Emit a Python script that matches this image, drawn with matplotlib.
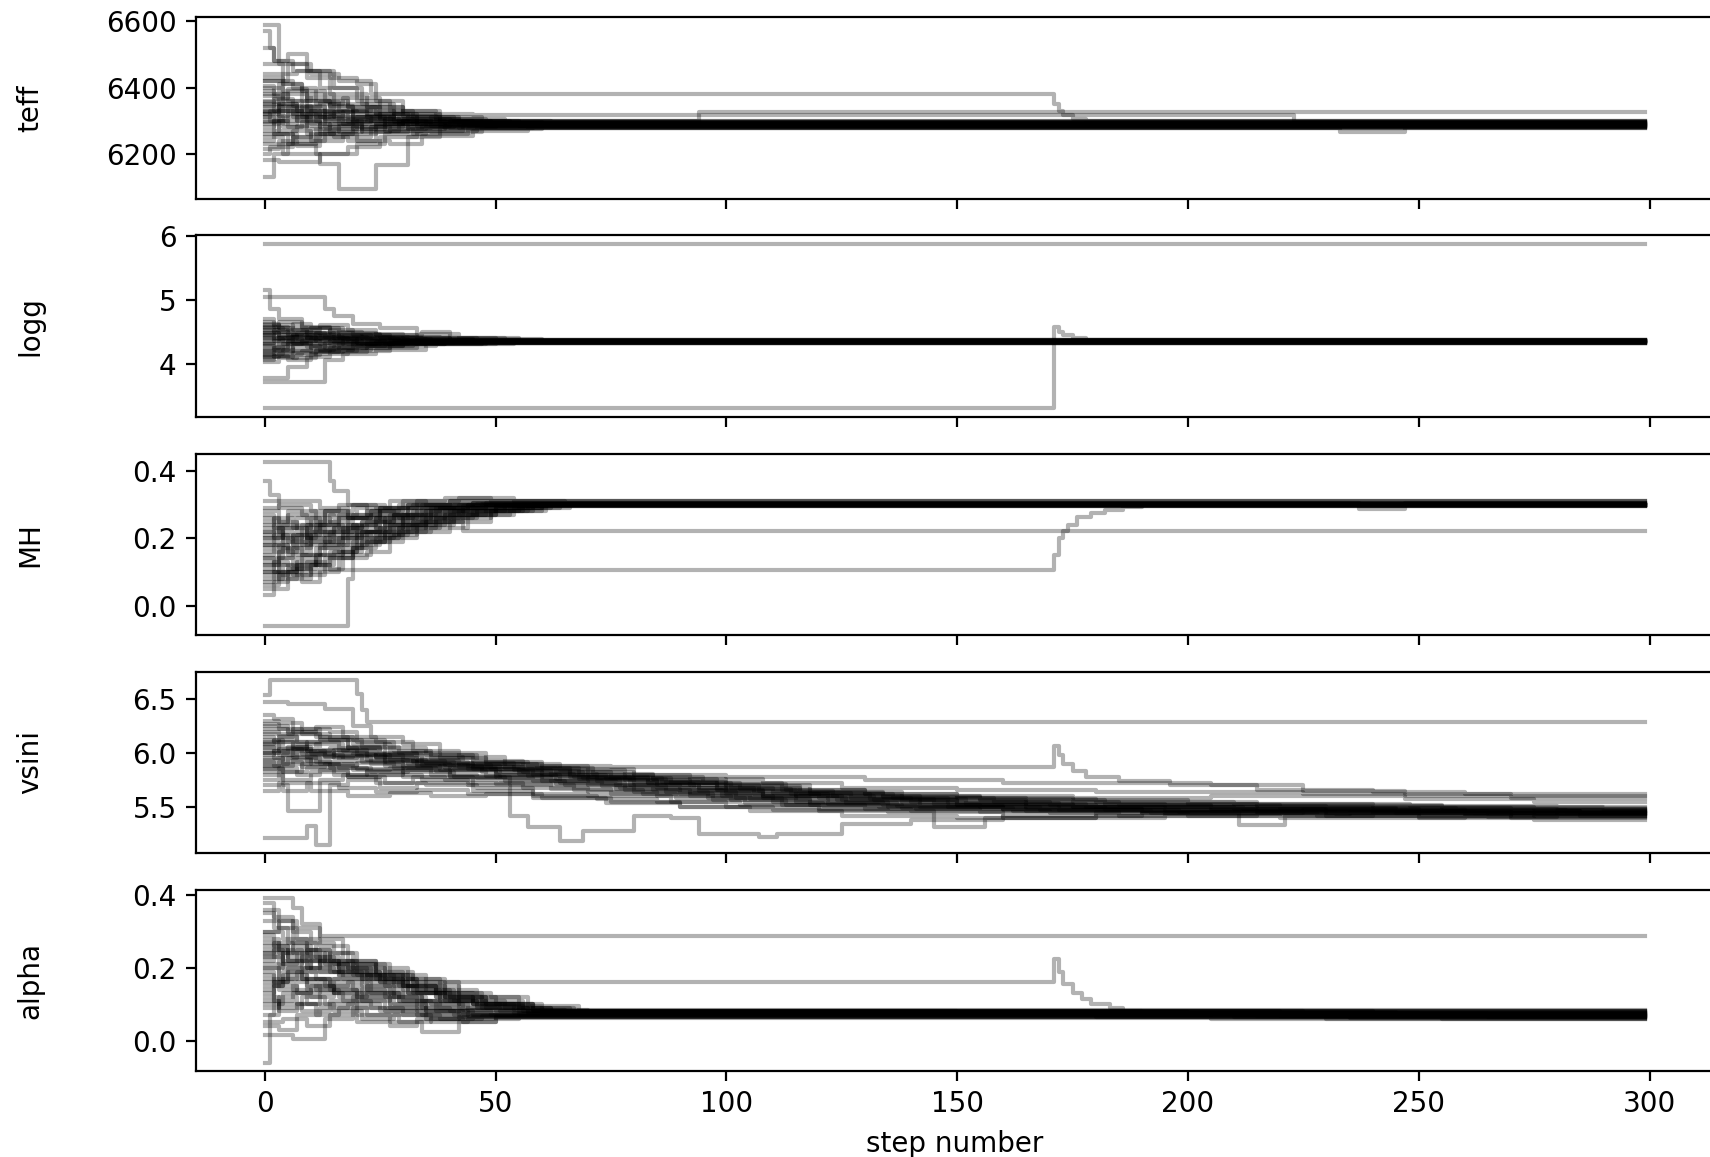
import matplotlib
matplotlib.use("Agg")
import matplotlib.pyplot as plt

# walker traces as (step, value) knots,
# each walker holds its value until the next knot (chain steps)
labels = ["teff", "logg", "MH", "vsini", "alpha"]
n_steps = 300

teff_walkers = [
    [(0, 6590), (3, 6470), (9, 6430), (14, 6380), (22, 6340), (30, 6310), (42, 6295), (60, 6290)],
    [(0, 6570), (1, 6520), (2, 6480), (6, 6450), (12, 6400), (20, 6360), (27, 6330), (38, 6300), (55, 6285)],
    [(0, 6420), (5, 6470), (10, 6440), (16, 6420), (23, 6380), (170, 6380), (171, 6350), (172, 6330),
     (173, 6318), (175, 6305), (178, 6298)],
    [(0, 6130), (2, 6200), (5, 6230), (11, 6260), (19, 6280), (30, 6300), (45, 6292)],
    [(0, 6250), (4, 6200), (12, 6170), (16, 6094), (24, 6165), (31, 6250), (38, 6280), (50, 6288)],
    [(0, 6180), (3, 6175), (12, 6200), (20, 6230), (26, 6260), (35, 6270), (46, 6282)],
    [(0, 6400), (4, 6360), (10, 6380), (15, 6330), (24, 6320), (33, 6290), (48, 6285)],
    [(0, 6320), (3, 6350), (7, 6300), (12, 6330), (18, 6310), (26, 6295), (40, 6300), (62, 6296)],
    [(0, 6300), (5, 6280), (9, 6320), (16, 6290), (22, 6300), (31, 6280), (43, 6290), (70, 6283)],
    [(0, 6360), (2, 6330), (8, 6340), (13, 6300), (21, 6270), (29, 6290), (39, 6278), (58, 6281)],
    [(0, 6420), (6, 6400), (11, 6350), (17, 6370), (25, 6330), (32, 6310), (41, 6300), (53, 6294)],
    [(0, 6270), (3, 6300), (9, 6260), (15, 6250), (23, 6280), (32, 6260), (44, 6275), (60, 6280)],
    [(0, 6340), (4, 6310), (10, 6290), (14, 6260), (20, 6240), (27, 6230), (34, 6255), (45, 6270), (57, 6279)],
    [(0, 6230), (6, 6250), (12, 6290), (19, 6330), (28, 6300), (36, 6310), (47, 6300), (65, 6298)],
    [(0, 6440), (7, 6450), (14, 6430), (20, 6410), (24, 6360), (30, 6330), (37, 6320), (45, 6318),
     (222, 6318), (223, 6297)],
    [(0, 6470), (4, 6390), (9, 6370), (18, 6340), (25, 6300), (35, 6290), (50, 6287)],
    [(0, 6380), (3, 6410), (8, 6360), (14, 6340), (19, 6310), (28, 6320), (38, 6305), (52, 6300),
     (93, 6300), (94, 6325)],
    [(0, 6310), (2, 6260), (7, 6240), (13, 6270), (20, 6300), (26, 6270), (36, 6265), (47, 6277),
     (233, 6265), (247, 6280)],
    [(0, 6260), (5, 6230), (11, 6200), (18, 6220), (25, 6250), (33, 6270), (43, 6285)],
    [(0, 6350), (4, 6380), (9, 6330), (15, 6310), (23, 6290), (30, 6305), (42, 6290)],
    [(0, 6330), (6, 6310), (13, 6280), (19, 6300), (27, 6310), (33, 6285), (40, 6295)],
    [(0, 6200), (1, 6220), (6, 6270), (10, 6240), (17, 6260), (24, 6290), (36, 6285)],
    [(0, 6290), (3, 6330), (8, 6310), (14, 6350), (22, 6320), (29, 6300), (39, 6292)],
    [(0, 6520), (2, 6480), (5, 6500), (9, 6450), (15, 6400), (21, 6350), (28, 6320), (37, 6300), (49, 6291)],
    [(0, 6310), (1, 6330), (3, 6315), (5, 6340), (8, 6320), (11, 6300), (14, 6315), (18, 6295), (23, 6305),
     (29, 6290), (35, 6296), (44, 6288)],
    [(0, 6330), (2, 6310), (4, 6290), (7, 6310), (10, 6330), (13, 6305), (17, 6290), (21, 6275), (26, 6290),
     (33, 6280), (41, 6287)],
    [(0, 6405), (2, 6380), (5, 6360), (8, 6340), (12, 6355), (16, 6330), (20, 6320), (25, 6305), (31, 6310),
     (38, 6296), (47, 6293)],
    [(0, 6280), (2, 6300), (5, 6320), (9, 6300), (12, 6280), (16, 6265), (21, 6280), (27, 6270), (34, 6285),
     (42, 6279)],
    [(0, 6355), (3, 6340), (6, 6320), (9, 6345), (13, 6325), (17, 6305), (22, 6315), (28, 6300), (36, 6290),
     (46, 6289)],
    [(0, 6240), (2, 6260), (6, 6250), (10, 6275), (14, 6290), (19, 6275), (24, 6285), (31, 6275), (39, 6284)],
    [(0, 6375), (3, 6350), (7, 6330), (11, 6310), (15, 6325), (19, 6300), (24, 6290), (30, 6300), (38, 6288),
     (50, 6290)],
    [(0, 6320), (1, 6300), (4, 6280), (8, 6295), (12, 6270), (16, 6285), (21, 6265), (27, 6275), (35, 6282)],
    [(0, 6430), (4, 6410), (8, 6390), (13, 6360), (18, 6340), (24, 6320), (31, 6305), (40, 6298), (52, 6296)],
    [(0, 6295), (3, 6270), (7, 6285), (11, 6260), (15, 6275), (20, 6290), (26, 6305), (32, 6290), (41, 6286)],
    [(0, 6345), (2, 6365), (6, 6345), (10, 6320), (15, 6300), (20, 6310), (27, 6290), (34, 6295), (45, 6292)],
    [(0, 6215), (3, 6240), (7, 6225), (12, 6250), (18, 6240), (24, 6265), (31, 6280), (40, 6278)],
    [(0, 6390), (2, 6370), (5, 6395), (9, 6360), (14, 6345), (19, 6330), (23, 6340), (30, 6315), (37, 6305),
     (48, 6300)],
    [(0, 6325), (3, 6345), (7, 6330), (12, 6310), (17, 6325), (22, 6310), (28, 6295), (36, 6300), (47, 6295)],
]

logg_walkers = [
    [(0, 5.87)],
    [(0, 3.30), (170, 3.30), (171, 4.57), (172, 4.50), (173, 4.45), (175, 4.40), (178, 4.37)],
    [(0, 5.15), (1, 4.85), (3, 4.70), (8, 4.55), (16, 4.45), (27, 4.40), (40, 4.36)],
    [(0, 5.05), (12, 5.05), (13, 4.85), (15, 4.75), (19, 4.62), (25, 4.55), (33, 4.47), (42, 4.40), (55, 4.36)],
    [(0, 3.77), (4, 3.77), (5, 3.95), (9, 4.10), (14, 4.18), (22, 4.25), (33, 4.30), (48, 4.34)],
    [(0, 3.72), (12, 3.72), (13, 4.05), (17, 4.15), (24, 4.22), (35, 4.30), (50, 4.33)],
    [(0, 4.10), (3, 4.15), (8, 4.20), (14, 4.25), (22, 4.30), (35, 4.32)],
    [(0, 4.55), (4, 4.50), (10, 4.55), (17, 4.48), (24, 4.45), (34, 4.50), (40, 4.40), (52, 4.37)],
    [(0, 4.30), (5, 4.35), (11, 4.40), (18, 4.35), (26, 4.33), (38, 4.35)],
    [(0, 4.62), (3, 4.55), (9, 4.45), (15, 4.40), (23, 4.38), (31, 4.36)],
    [(0, 4.20), (6, 4.28), (12, 4.22), (19, 4.30), (28, 4.33), (41, 4.34)],
    [(0, 4.45), (2, 4.40), (7, 4.48), (13, 4.42), (21, 4.40), (30, 4.37), (45, 4.36)],
    [(0, 4.05), (2, 4.12), (6, 4.08), (11, 4.20), (20, 4.28), (30, 4.32), (44, 4.33)],
    [(0, 4.70), (2, 4.60), (6, 4.52), (12, 4.60), (18, 4.52), (24, 4.45), (33, 4.40), (46, 4.37)],
    [(0, 4.38), (4, 4.30), (10, 4.25), (16, 4.30), (25, 4.35), (36, 4.34)],
    [(0, 4.25), (3, 4.35), (9, 4.42), (15, 4.38), (22, 4.35), (34, 4.36)],
    [(0, 4.50), (5, 4.42), (11, 4.35), (17, 4.30), (27, 4.33), (39, 4.35)],
    [(0, 4.15), (4, 4.22), (10, 4.18), (16, 4.25), (22, 4.28), (32, 4.31), (47, 4.34)],
    [(0, 4.58), (3, 4.65), (8, 4.58), (14, 4.50), (21, 4.46), (30, 4.42), (38, 4.40), (50, 4.37)],
    [(0, 4.40), (6, 4.45), (12, 4.38), (20, 4.32), (29, 4.35), (42, 4.35)],
    [(0, 4.12), (5, 4.05), (10, 4.15), (18, 4.20), (27, 4.27), (37, 4.31), (54, 4.34)],
    [(0, 4.48), (3, 4.38), (8, 4.32), (14, 4.36), (21, 4.30), (31, 4.34)],
    [(0, 4.33), (2, 4.45), (9, 4.40), (16, 4.45), (23, 4.40), (34, 4.38), (60, 4.36)],
    [(0, 4.08), (2, 4.18), (6, 4.30), (13, 4.25), (19, 4.32), (26, 4.30), (39, 4.33)],
    [(0, 4.45), (2, 4.52), (5, 4.46), (8, 4.50), (12, 4.44), (16, 4.40), (21, 4.42), (27, 4.38), (35, 4.37)],
    [(0, 4.28), (2, 4.22), (5, 4.30), (9, 4.26), (13, 4.32), (18, 4.30), (24, 4.34), (32, 4.33)],
    [(0, 4.60), (3, 4.56), (6, 4.62), (10, 4.55), (14, 4.48), (19, 4.46), (25, 4.42), (31, 4.40), (40, 4.37)],
    [(0, 4.18), (2, 4.25), (6, 4.20), (10, 4.28), (15, 4.32), (20, 4.28), (26, 4.31), (33, 4.34)],
    [(0, 4.52), (3, 4.45), (7, 4.40), (11, 4.46), (16, 4.42), (22, 4.38), (29, 4.36), (37, 4.35)],
    [(0, 4.35), (3, 4.40), (6, 4.32), (10, 4.38), (15, 4.34), (20, 4.38), (27, 4.35)],
    [(0, 4.65), (2, 4.58), (5, 4.52), (9, 4.48), (14, 4.52), (19, 4.45), (25, 4.41), (33, 4.38), (45, 4.36)],
    [(0, 4.02), (3, 4.08), (7, 4.14), (12, 4.18), (17, 4.22), (23, 4.27), (30, 4.30), (39, 4.33)],
    [(0, 4.42), (2, 4.36), (6, 4.42), (10, 4.36), (14, 4.30), (19, 4.34), (25, 4.32), (34, 4.34)],
    [(0, 4.22), (4, 4.30), (8, 4.36), (12, 4.30), (17, 4.38), (23, 4.36), (30, 4.35)],
    [(0, 4.56), (2, 4.50), (6, 4.44), (11, 4.48), (15, 4.43), (21, 4.40), (28, 4.38), (36, 4.36)],
    [(0, 4.14), (2, 4.10), (6, 4.16), (11, 4.22), (15, 4.26), (21, 4.24), (27, 4.30), (35, 4.33)],
    [(0, 4.48), (3, 4.42), (7, 4.38), (12, 4.42), (17, 4.38), (24, 4.36)],
    [(0, 4.30), (2, 4.26), (5, 4.34), (9, 4.40), (14, 4.36), (20, 4.33), (28, 4.35)],
]

mh_walkers = [
    [(0, 0.20), (4, 0.24), (10, 0.22), (18, 0.26), (26, 0.24), (34, 0.25), (43, 0.223)],
    [(0, 0.05), (5, 0.08), (10, 0.12), (14, 0.106), (170, 0.106), (171, 0.15), (172, 0.20), (173, 0.223),
     (174, 0.24), (176, 0.262), (179, 0.275), (182, 0.283), (186, 0.292), (190, 0.298)],
    [(0, 0.427), (13, 0.427), (14, 0.37), (15, 0.34), (18, 0.30), (24, 0.29), (32, 0.30), (45, 0.305)],
    [(0, -0.06), (17, -0.06), (18, 0.08), (19, 0.17), (21, 0.22), (27, 0.24), (35, 0.27), (46, 0.29), (60, 0.30)],
    [(0, 0.37), (1, 0.33), (3, 0.29), (8, 0.27), (15, 0.26), (23, 0.27), (31, 0.29), (44, 0.30)],
    [(0, 0.03), (2, 0.07), (5, 0.10), (9, 0.13), (14, 0.16), (20, 0.20), (28, 0.24), (37, 0.27), (50, 0.295)],
    [(0, 0.08), (4, 0.12), (8, 0.09), (13, 0.14), (19, 0.19), (26, 0.22), (33, 0.25), (41, 0.28), (55, 0.30)],
    [(0, 0.12), (3, 0.16), (7, 0.21), (12, 0.24), (17, 0.22), (24, 0.26), (32, 0.28), (43, 0.295)],
    [(0, 0.29), (3, 0.30), (10, 0.28), (16, 0.30), (22, 0.27), (29, 0.26), (36, 0.29), (48, 0.305)],
    [(0, 0.18), (5, 0.15), (10, 0.19), (15, 0.23), (21, 0.25), (28, 0.27), (38, 0.29), (52, 0.30)],
    [(0, 0.10), (3, 0.14), (6, 0.12), (11, 0.17), (16, 0.20), (24, 0.21), (31, 0.24), (39, 0.27), (48, 0.29),
     (62, 0.30)],
    [(0, 0.22), (4, 0.19), (9, 0.24), (14, 0.27), (20, 0.29), (27, 0.31), (35, 0.30), (47, 0.303)],
    [(0, 0.14), (2, 0.10), (7, 0.13), (12, 0.18), (18, 0.21), (25, 0.23), (30, 0.26), (40, 0.28), (56, 0.298)],
    [(0, 0.25), (5, 0.28), (11, 0.25), (16, 0.27), (23, 0.28), (30, 0.31), (39, 0.32), (49, 0.31), (65, 0.305),
     (237, 0.288), (247, 0.305)],
    [(0, 0.16), (4, 0.21), (8, 0.18), (13, 0.20), (21, 0.22), (27, 0.25), (34, 0.27), (43, 0.29), (58, 0.30)],
    [(0, 0.06), (3, 0.09), (8, 0.07), (12, 0.11), (17, 0.15), (23, 0.19), (30, 0.22), (36, 0.23), (44, 0.27),
     (54, 0.29), (66, 0.30)],
    [(0, 0.27), (2, 0.23), (7, 0.26), (12, 0.22), (19, 0.24), (25, 0.28), (31, 0.30), (40, 0.31), (55, 0.31)],
    [(0, 0.20), (3, 0.23), (9, 0.20), (14, 0.19), (20, 0.23), (26, 0.26), (33, 0.29), (41, 0.30)],
    [(0, 0.12), (6, 0.11), (11, 0.15), (17, 0.18), (22, 0.22), (29, 0.23), (37, 0.26), (45, 0.28), (57, 0.295)],
    [(0, 0.31), (6, 0.31), (12, 0.29), (18, 0.26), (25, 0.29), (33, 0.31), (42, 0.32), (54, 0.31)],
    [(0, 0.23), (4, 0.20), (8, 0.24), (13, 0.28), (19, 0.30), (26, 0.29), (34, 0.30), (46, 0.302)],
    [(0, 0.09), (5, 0.11), (10, 0.10), (16, 0.14), (22, 0.16), (27, 0.20), (33, 0.22), (40, 0.25), (49, 0.28),
     (61, 0.298)],
    [(0, 0.15), (2, 0.18), (5, 0.16), (9, 0.20), (13, 0.19), (17, 0.23), (22, 0.25), (28, 0.27), (35, 0.28),
     (44, 0.30)],
    [(0, 0.19), (3, 0.17), (6, 0.21), (10, 0.19), (14, 0.22), (19, 0.24), (24, 0.23), (30, 0.27), (37, 0.29),
     (47, 0.30)],
    [(0, 0.11), (2, 0.13), (5, 0.11), (8, 0.15), (12, 0.17), (16, 0.16), (21, 0.19), (26, 0.22), (32, 0.25),
     (40, 0.27), (50, 0.29), (60, 0.30)],
    [(0, 0.24), (2, 0.26), (6, 0.23), (10, 0.26), (14, 0.25), (19, 0.27), (25, 0.29), (31, 0.30), (40, 0.31)],
    [(0, 0.13), (3, 0.10), (7, 0.14), (11, 0.12), (15, 0.16), (20, 0.18), (25, 0.21), (30, 0.23), (38, 0.26),
     (46, 0.28), (58, 0.30)],
    [(0, 0.21), (2, 0.24), (5, 0.27), (9, 0.25), (13, 0.28), (18, 0.26), (23, 0.28), (29, 0.30), (36, 0.30)],
    [(0, 0.17), (3, 0.14), (6, 0.17), (10, 0.21), (15, 0.20), (20, 0.22), (26, 0.24), (32, 0.26), (39, 0.28),
     (50, 0.295)],
    [(0, 0.07), (2, 0.10), (6, 0.09), (10, 0.12), (14, 0.14), (19, 0.17), (24, 0.20), (29, 0.22), (35, 0.25),
     (43, 0.27), (53, 0.29), (64, 0.30)],
    [(0, 0.28), (3, 0.25), (7, 0.22), (11, 0.24), (16, 0.23), (21, 0.25), (27, 0.27), (34, 0.29), (42, 0.30)],
    [(0, 0.22), (2, 0.20), (6, 0.18), (10, 0.22), (15, 0.24), (20, 0.22), (25, 0.25), (31, 0.28), (38, 0.29),
     (48, 0.30)],
    [(0, 0.14), (4, 0.17), (8, 0.15), (13, 0.18), (17, 0.21), (23, 0.20), (29, 0.23), (35, 0.26), (42, 0.28),
     (52, 0.30)],
    [(0, 0.26), (3, 0.22), (6, 0.20), (11, 0.23), (16, 0.26), (22, 0.28), (28, 0.27), (35, 0.29), (45, 0.305)],
    [(0, 0.18), (2, 0.21), (5, 0.19), (9, 0.23), (13, 0.21), (18, 0.24), (24, 0.26), (30, 0.25), (36, 0.28),
     (45, 0.29), (56, 0.30)],
    [(0, 0.10), (3, 0.08), (7, 0.12), (12, 0.15), (17, 0.17), (22, 0.19), (27, 0.21), (33, 0.24), (41, 0.26),
     (49, 0.28), (60, 0.298)],
]

vsini_walkers = [
    [(0, 6.54), (1, 6.68), (19, 6.68), (20, 6.55), (21, 6.40), (22, 6.288)],
    [(0, 6.22), (5, 6.18), (12, 6.12), (19, 6.08), (27, 6.00), (36, 5.95), (45, 5.90), (60, 5.88), (75, 5.868),
     (170, 5.868), (171, 6.07), (172, 5.98), (173, 5.90), (175, 5.83), (178, 5.78), (185, 5.74), (196, 5.70),
     (215, 5.66), (240, 5.64), (260, 5.62)],
    [(0, 5.21), (8, 5.21), (9, 5.32), (11, 5.15), (14, 5.70), (18, 5.75), (25, 5.68), (33, 5.72), (44, 5.70),
     (53, 5.42), (57, 5.31), (64, 5.18), (69, 5.28), (78, 5.28), (80, 5.42), (88, 5.40), (94, 5.25),
     (107, 5.22), (111, 5.25), (124, 5.25), (125, 5.34), (140, 5.38), (160, 5.42), (190, 5.45), (230, 5.42),
     (270, 5.44)],
    [(0, 5.85), (4, 5.70), (5, 5.46), (11, 5.46), (12, 5.75), (17, 5.80), (24, 5.72), (32, 5.78), (45, 5.65),
     (58, 5.60), (72, 5.57), (85, 5.55), (100, 5.50), (120, 5.46), (145, 5.31), (156, 5.40), (180, 5.45),
     (211, 5.33), (221, 5.42), (250, 5.40), (275, 5.38)],
    [(0, 6.47), (5, 6.46), (13, 6.41), (17, 6.41), (19, 6.25), (23, 6.15), (30, 6.08), (38, 6.00), (48, 5.92),
     (60, 5.85), (80, 5.80), (100, 5.78), (130, 5.75), (160, 5.72), (205, 5.70), (225, 5.65), (247, 5.62),
     (270, 5.60)],
    [(0, 6.05), (3, 6.10), (9, 6.02), (15, 5.98), (24, 5.95), (33, 5.90), (45, 5.85), (58, 5.80), (70, 5.75),
     (85, 5.68), (100, 5.62), (120, 5.58), (140, 5.55), (165, 5.50), (195, 5.48), (230, 5.46), (265, 5.45)],
    [(0, 5.95), (4, 5.90), (10, 5.98), (17, 5.93), (26, 5.88), (38, 5.84), (50, 5.80), (64, 5.72), (78, 5.66),
     (92, 5.60), (110, 5.55), (135, 5.50), (160, 5.47), (190, 5.44), (225, 5.47), (260, 5.43)],
    [(0, 6.25), (5, 6.20), (11, 6.15), (18, 6.05), (26, 5.98), (34, 5.92), (44, 5.88), (55, 5.83), (68, 5.78),
     (83, 5.72), (98, 5.66), (115, 5.60), (138, 5.55), (170, 5.52), (205, 5.50), (240, 5.48), (280, 5.47)],
    [(0, 5.75), (3, 5.82), (8, 5.90), (14, 5.86), (22, 5.80), (30, 5.84), (40, 5.78), (52, 5.74), (65, 5.70),
     (80, 5.64), (96, 5.58), (112, 5.52), (130, 5.48), (155, 5.45), (185, 5.42), (220, 5.40), (260, 5.42)],
    [(0, 6.12), (4, 6.05), (9, 6.10), (16, 6.02), (24, 5.96), (32, 5.93), (42, 5.87), (54, 5.84), (66, 5.78),
     (79, 5.70), (94, 5.65), (108, 5.60), (125, 5.56), (150, 5.52), (180, 5.50), (215, 5.47), (255, 5.46),
     (285, 5.44)],
    [(0, 5.65), (3, 5.72), (10, 5.65), (18, 5.60), (27, 5.63), (36, 5.60), (48, 5.62), (60, 5.58), (75, 5.55),
     (90, 5.50), (105, 5.46), (125, 5.42), (150, 5.40), (180, 5.42), (215, 5.44), (250, 5.41), (280, 5.43)],
    [(0, 6.30), (3, 6.28), (8, 6.22), (14, 6.20), (20, 6.10), (28, 6.02), (36, 5.98), (46, 5.92), (57, 5.88),
     (70, 5.80), (84, 5.76), (100, 5.70), (118, 5.64), (138, 5.58), (165, 5.56), (200, 5.53), (240, 5.50),
     (275, 5.48)],
    [(0, 5.90), (5, 5.95), (12, 5.90), (20, 5.85), (30, 5.82), (41, 5.78), (53, 5.70), (67, 5.66), (82, 5.62),
     (97, 5.56), (113, 5.52), (133, 5.50), (160, 5.48), (190, 5.46), (230, 5.45), (270, 5.44)],
    [(0, 6.00), (2, 5.95), (7, 6.02), (13, 5.97), (21, 5.92), (30, 5.88), (39, 5.86), (50, 5.78), (62, 5.74),
     (76, 5.70), (90, 5.68), (106, 5.62), (122, 5.57), (145, 5.53), (175, 5.50), (210, 5.48), (245, 5.46),
     (285, 5.45)],
    [(0, 6.18), (6, 6.22), (12, 6.15), (19, 6.12), (26, 6.05), (35, 5.98), (45, 5.93), (56, 5.86), (68, 5.82),
     (80, 5.78), (95, 5.72), (112, 5.66), (130, 5.62), (150, 5.60), (175, 5.58), (205, 5.60), (247, 5.57),
     (275, 5.55)],
    [(0, 5.80), (4, 5.75), (10, 5.82), (18, 5.78), (26, 5.72), (35, 5.70), (46, 5.68), (58, 5.62), (70, 5.60),
     (88, 5.55), (103, 5.52), (120, 5.48), (140, 5.46), (170, 5.44), (200, 5.42), (240, 5.44), (275, 5.42)],
    [(0, 6.08), (3, 6.02), (9, 5.96), (15, 6.00), (22, 5.94), (31, 5.90), (40, 5.84), (51, 5.80), (63, 5.76),
     (77, 5.68), (92, 5.63), (108, 5.58), (126, 5.54), (148, 5.50), (172, 5.47), (205, 5.46), (245, 5.44),
     (280, 5.46)],
    [(0, 5.70), (4, 5.65), (9, 5.72), (16, 5.68), (24, 5.64), (33, 5.66), (44, 5.62), (58, 5.58), (74, 5.54),
     (90, 5.50), (110, 5.47), (135, 5.45), (160, 5.40), (195, 5.43), (235, 5.45), (270, 5.40)],
    [(0, 6.35), (2, 6.32), (6, 6.20), (11, 6.24), (17, 6.15), (24, 6.10), (32, 6.02), (42, 5.96), (52, 5.90),
     (64, 5.84), (78, 5.80), (92, 5.76), (108, 5.72), (125, 5.68), (150, 5.66), (180, 5.64), (225, 5.62),
     (247, 5.60), (270, 5.58)],
    [(0, 6.02), (3, 5.98), (6, 6.04), (10, 5.99), (15, 5.95), (20, 5.97), (26, 5.92), (33, 5.88), (41, 5.85),
     (50, 5.82), (60, 5.78), (72, 5.74), (85, 5.70), (100, 5.64), (115, 5.60), (132, 5.56), (150, 5.52),
     (175, 5.50), (205, 5.48), (240, 5.46), (275, 5.45)],
    [(0, 5.98), (2, 6.02), (6, 5.96), (11, 5.92), (16, 5.96), (23, 5.90), (30, 5.86), (38, 5.88), (47, 5.82),
     (57, 5.79), (68, 5.76), (80, 5.71), (93, 5.66), (108, 5.60), (124, 5.56), (142, 5.52), (165, 5.49),
     (195, 5.47), (230, 5.44), (265, 5.43)],
    [(0, 6.10), (3, 6.15), (7, 6.08), (12, 6.03), (18, 6.06), (25, 5.99), (33, 5.94), (42, 5.90), (52, 5.86),
     (63, 5.82), (75, 5.77), (88, 5.72), (103, 5.67), (118, 5.62), (136, 5.58), (158, 5.55), (185, 5.52),
     (220, 5.49), (258, 5.47), (290, 5.46)],
    [(0, 5.88), (3, 5.92), (8, 5.87), (13, 5.90), (19, 5.84), (27, 5.86), (36, 5.80), (46, 5.77), (58, 5.74),
     (70, 5.70), (84, 5.66), (99, 5.60), (115, 5.55), (134, 5.52), (155, 5.50), (182, 5.47), (215, 5.45),
     (250, 5.44), (285, 5.42)],
    [(0, 6.20), (3, 6.16), (7, 6.10), (12, 6.12), (18, 6.05), (25, 6.00), (33, 5.96), (43, 5.91), (54, 5.86),
     (66, 5.80), (78, 5.75), (92, 5.70), (107, 5.65), (123, 5.60), (142, 5.56), (165, 5.53), (195, 5.51),
     (230, 5.49), (270, 5.47)],
    [(0, 5.94), (4, 5.98), (9, 5.93), (14, 5.88), (20, 5.91), (28, 5.86), (37, 5.83), (48, 5.79), (60, 5.74),
     (73, 5.69), (87, 5.64), (102, 5.58), (118, 5.54), (137, 5.51), (160, 5.48), (190, 5.46), (225, 5.45),
     (262, 5.44)],
    [(0, 6.06), (2, 6.00), (5, 6.06), (9, 6.02), (14, 6.05), (20, 5.98), (27, 5.94), (35, 5.91), (45, 5.87),
     (56, 5.82), (69, 5.77), (83, 5.72), (98, 5.67), (114, 5.62), (131, 5.57), (152, 5.53), (178, 5.50),
     (212, 5.48), (250, 5.46), (285, 5.44)],
    [(0, 5.82), (3, 5.86), (7, 5.80), (12, 5.84), (18, 5.78), (25, 5.80), (34, 5.75), (44, 5.72), (56, 5.68),
     (70, 5.64), (85, 5.60), (101, 5.56), (118, 5.52), (138, 5.49), (162, 5.46), (192, 5.44), (228, 5.42),
     (265, 5.41)],
    [(0, 6.15), (2, 6.10), (6, 6.04), (11, 6.08), (17, 6.02), (24, 5.96), (32, 5.92), (41, 5.88), (51, 5.84),
     (62, 5.80), (74, 5.76), (87, 5.72), (101, 5.68), (116, 5.63), (134, 5.59), (155, 5.56), (182, 5.53),
     (215, 5.51), (255, 5.49), (290, 5.48)],
    [(0, 5.92), (2, 5.88), (6, 5.94), (10, 5.90), (16, 5.86), (23, 5.82), (31, 5.84), (40, 5.79), (51, 5.75),
     (63, 5.71), (76, 5.67), (90, 5.62), (105, 5.57), (122, 5.53), (142, 5.50), (168, 5.47), (198, 5.45),
     (235, 5.44), (275, 5.43)],
    [(0, 6.00), (3, 6.04), (8, 5.99), (13, 5.96), (19, 5.99), (26, 5.93), (34, 5.89), (44, 5.85), (55, 5.81),
     (67, 5.78), (80, 5.73), (94, 5.68), (110, 5.63), (127, 5.58), (148, 5.54), (172, 5.51), (205, 5.49),
     (245, 5.47), (282, 5.46)],
    [(0, 6.27), (3, 6.22), (8, 6.18), (14, 6.12), (21, 6.06), (29, 6.00), (38, 5.95), (48, 5.90), (59, 5.86),
     (71, 5.81), (84, 5.76), (98, 5.71), (113, 5.66), (130, 5.62), (150, 5.58), (175, 5.55), (210, 5.53),
     (248, 5.51), (280, 5.50)],
    [(0, 5.86), (4, 5.82), (9, 5.86), (15, 5.80), (22, 5.83), (30, 5.78), (39, 5.75), (50, 5.71), (62, 5.67),
     (75, 5.62), (89, 5.58), (104, 5.54), (121, 5.51), (141, 5.48), (165, 5.46), (195, 5.44), (232, 5.43),
     (270, 5.42)],
    [(0, 6.08), (2, 6.12), (6, 6.06), (10, 6.00), (15, 6.03), (22, 5.98), (30, 5.93), (39, 5.89), (49, 5.85),
     (60, 5.81), (72, 5.77), (86, 5.73), (100, 5.69), (116, 5.64), (134, 5.60), (155, 5.57), (180, 5.55),
     (215, 5.52), (255, 5.50), (290, 5.49)],
]

alpha_walkers = [
    [(0, 0.30), (3, 0.33), (7, 0.31), (12, 0.2876)],
    [(0, 0.25), (4, 0.22), (9, 0.20), (15, 0.19), (22, 0.18), (30, 0.17), (39, 0.1616), (170, 0.1616),
     (171, 0.225), (172, 0.19), (173, 0.156), (175, 0.13), (177, 0.115), (179, 0.10), (183, 0.09), (186, 0.08)],
    [(0, 0.392), (5, 0.392), (6, 0.364), (8, 0.322), (12, 0.28), (17, 0.22), (24, 0.18), (32, 0.14), (41, 0.11),
     (52, 0.09), (62, 0.078), (200, 0.072)],
    [(0, -0.061), (1, 0.07), (2, 0.15), (4, 0.19), (8, 0.17), (14, 0.15), (21, 0.13), (29, 0.11), (38, 0.09),
     (50, 0.08), (220, 0.068)],
    [(0, 0.38), (2, 0.34), (6, 0.27), (11, 0.23), (16, 0.20), (23, 0.17), (30, 0.15), (37, 0.12), (45, 0.10),
     (56, 0.082), (150, 0.075), (250, 0.068)],
    [(0, 0.015), (5, 0.015), (6, 0.005), (12, 0.005), (13, 0.06), (19, 0.09), (26, 0.08), (34, 0.07), (44, 0.075),
     (180, 0.066)],
    [(0, 0.07), (3, 0.10), (8, 0.08), (14, 0.11), (20, 0.07), (27, 0.05), (34, 0.024), (41, 0.024), (42, 0.05),
     (50, 0.065), (255, 0.058)],
    [(0, 0.23), (3, 0.21), (7, 0.25), (12, 0.21), (18, 0.19), (25, 0.16), (33, 0.13), (40, 0.11), (48, 0.09),
     (60, 0.075)],
    [(0, 0.15), (4, 0.18), (9, 0.15), (15, 0.13), (22, 0.15), (28, 0.12), (35, 0.10), (43, 0.085), (55, 0.072),
     (210, 0.066)],
    [(0, 0.28), (3, 0.25), (8, 0.22), (13, 0.24), (19, 0.20), (26, 0.17), (33, 0.16), (42, 0.12), (50, 0.10),
     (60, 0.08), (240, 0.07)],
    [(0, 0.12), (3, 0.09), (8, 0.12), (13, 0.10), (19, 0.12), (27, 0.09), (35, 0.06), (43, 0.05), (50, 0.068),
     (230, 0.06)],
    [(0, 0.20), (4, 0.24), (9, 0.20), (16, 0.18), (23, 0.16), (31, 0.13), (39, 0.12), (47, 0.10), (58, 0.08),
     (190, 0.073)],
    [(0, 0.18), (2, 0.15), (7, 0.13), (12, 0.16), (19, 0.14), (26, 0.12), (34, 0.09), (42, 0.07), (53, 0.07)],
    [(0, 0.26), (5, 0.22), (10, 0.19), (17, 0.21), (24, 0.19), (30, 0.14), (38, 0.11), (46, 0.09), (57, 0.074),
     (265, 0.064)],
    [(0, 0.10), (4, 0.13), (9, 0.10), (15, 0.08), (21, 0.06), (28, 0.07), (36, 0.05), (44, 0.06), (55, 0.066)],
    [(0, 0.33), (3, 0.31), (7, 0.28), (12, 0.26), (18, 0.22), (24, 0.20), (31, 0.17), (38, 0.14), (46, 0.12),
     (55, 0.09), (66, 0.078), (245, 0.07)],
    [(0, 0.04), (3, 0.03), (7, 0.07), (12, 0.09), (18, 0.10), (25, 0.08), (33, 0.07), (42, 0.062)],
    [(0, 0.21), (3, 0.17), (9, 0.14), (15, 0.17), (22, 0.14), (30, 0.11), (37, 0.08), (45, 0.07), (55, 0.07),
     (235, 0.062)],
    [(0, 0.16), (5, 0.20), (10, 0.22), (16, 0.20), (22, 0.17), (29, 0.15), (37, 0.13), (45, 0.10), (54, 0.085),
     (65, 0.075), (215, 0.068)],
    [(0, 0.24), (4, 0.20), (8, 0.17), (14, 0.14), (20, 0.12), (27, 0.10), (35, 0.08), (44, 0.068)],
    [(0, 0.05), (4, 0.06), (9, 0.04), (14, 0.07), (20, 0.05), (27, 0.04), (33, 0.06), (42, 0.065), (205, 0.06)],
    [(0, 0.30), (4, 0.28), (9, 0.25), (14, 0.22), (20, 0.21), (27, 0.18), (35, 0.15), (42, 0.13), (49, 0.12),
     (57, 0.095), (68, 0.08), (225, 0.071)],
    [(0, 0.22), (2, 0.25), (5, 0.22), (8, 0.20), (12, 0.22), (16, 0.19), (21, 0.17), (26, 0.15), (32, 0.13),
     (39, 0.11), (47, 0.09), (57, 0.078)],
    [(0, 0.19), (2, 0.16), (5, 0.19), (9, 0.17), (13, 0.15), (18, 0.16), (23, 0.13), (29, 0.11), (36, 0.10),
     (44, 0.085), (54, 0.075)],
    [(0, 0.27), (3, 0.24), (6, 0.26), (10, 0.23), (15, 0.21), (20, 0.18), (26, 0.17), (33, 0.14), (40, 0.12),
     (48, 0.10), (58, 0.085), (70, 0.077)],
    [(0, 0.13), (2, 0.16), (6, 0.14), (10, 0.12), (15, 0.14), (20, 0.11), (26, 0.09), (33, 0.08), (41, 0.07)],
    [(0, 0.35), (2, 0.31), (5, 0.27), (9, 0.24), (13, 0.21), (18, 0.20), (24, 0.17), (30, 0.15), (37, 0.12),
     (45, 0.10), (55, 0.08)],
    [(0, 0.17), (3, 0.14), (7, 0.16), (11, 0.14), (16, 0.12), (22, 0.13), (28, 0.10), (35, 0.08), (43, 0.072)],
    [(0, 0.24), (2, 0.27), (6, 0.24), (10, 0.22), (14, 0.19), (19, 0.18), (25, 0.16), (31, 0.13), (38, 0.11),
     (46, 0.095), (56, 0.08)],
    [(0, 0.09), (3, 0.12), (7, 0.10), (12, 0.13), (17, 0.11), (23, 0.09), (30, 0.07), (38, 0.06), (47, 0.068)],
    [(0, 0.20), (3, 0.17), (7, 0.19), (11, 0.17), (16, 0.18), (21, 0.15), (27, 0.13), (34, 0.11), (42, 0.09),
     (51, 0.08)],
    [(0, 0.29), (2, 0.26), (5, 0.23), (9, 0.25), (14, 0.22), (19, 0.19), (25, 0.18), (31, 0.15), (39, 0.12),
     (48, 0.10), (58, 0.083)],
    [(0, 0.14), (2, 0.11), (6, 0.13), (10, 0.15), (15, 0.13), (21, 0.11), (27, 0.12), (33, 0.09), (40, 0.08),
     (49, 0.07)],
    [(0, 0.23), (4, 0.21), (8, 0.23), (12, 0.19), (17, 0.17), (22, 0.18), (28, 0.15), (35, 0.13), (42, 0.10),
     (51, 0.09), (62, 0.076)],
    [(0, 0.11), (3, 0.08), (7, 0.10), (11, 0.07), (16, 0.09), (22, 0.07), (29, 0.05), (36, 0.06), (45, 0.066)],
    [(0, 0.36), (3, 0.33), (6, 0.30), (10, 0.27), (15, 0.24), (20, 0.21), (26, 0.19), (32, 0.16), (39, 0.13),
     (47, 0.11), (56, 0.09), (67, 0.078)],
]

walkers_all = [teff_walkers, logg_walkers, mh_walkers, vsini_walkers, alpha_walkers]
y_limits = [(6065, 6612), (3.17, 6.005), (-0.087, 0.452), (5.073, 6.755), (-0.084, 0.415)]
y_ticks = [[6200, 6400, 6600], [4, 5, 6], [0.0, 0.2, 0.4], [5.5, 6.0, 6.5], [0.0, 0.2, 0.4]]

fig, axes = plt.subplots(5, figsize=(8.55, 5.785), dpi=200, sharex=True)
fig.subplots_adjust(left=0.1146, right=1.0023, bottom=0.0743, top=0.985, hspace=0.204)

for i in range(len(labels)):
    ax = axes[i]
    for w in walkers_all[i]:
        xs = [p[0] for p in w] + [n_steps - 1]
        ys = [p[1] for p in w] + [w[-1][1]]
        ax.plot(xs, ys, "k", alpha=0.3, drawstyle="steps-post")
    ax.set_ylim(y_limits[i])
    ax.set_yticks(y_ticks[i])
    ax.set_ylabel(labels[i])
    ax.yaxis.set_label_coords(-0.1, 0.5)

axes[-1].set_xlabel("step number")
fig.savefig("out.png", dpi=200)
